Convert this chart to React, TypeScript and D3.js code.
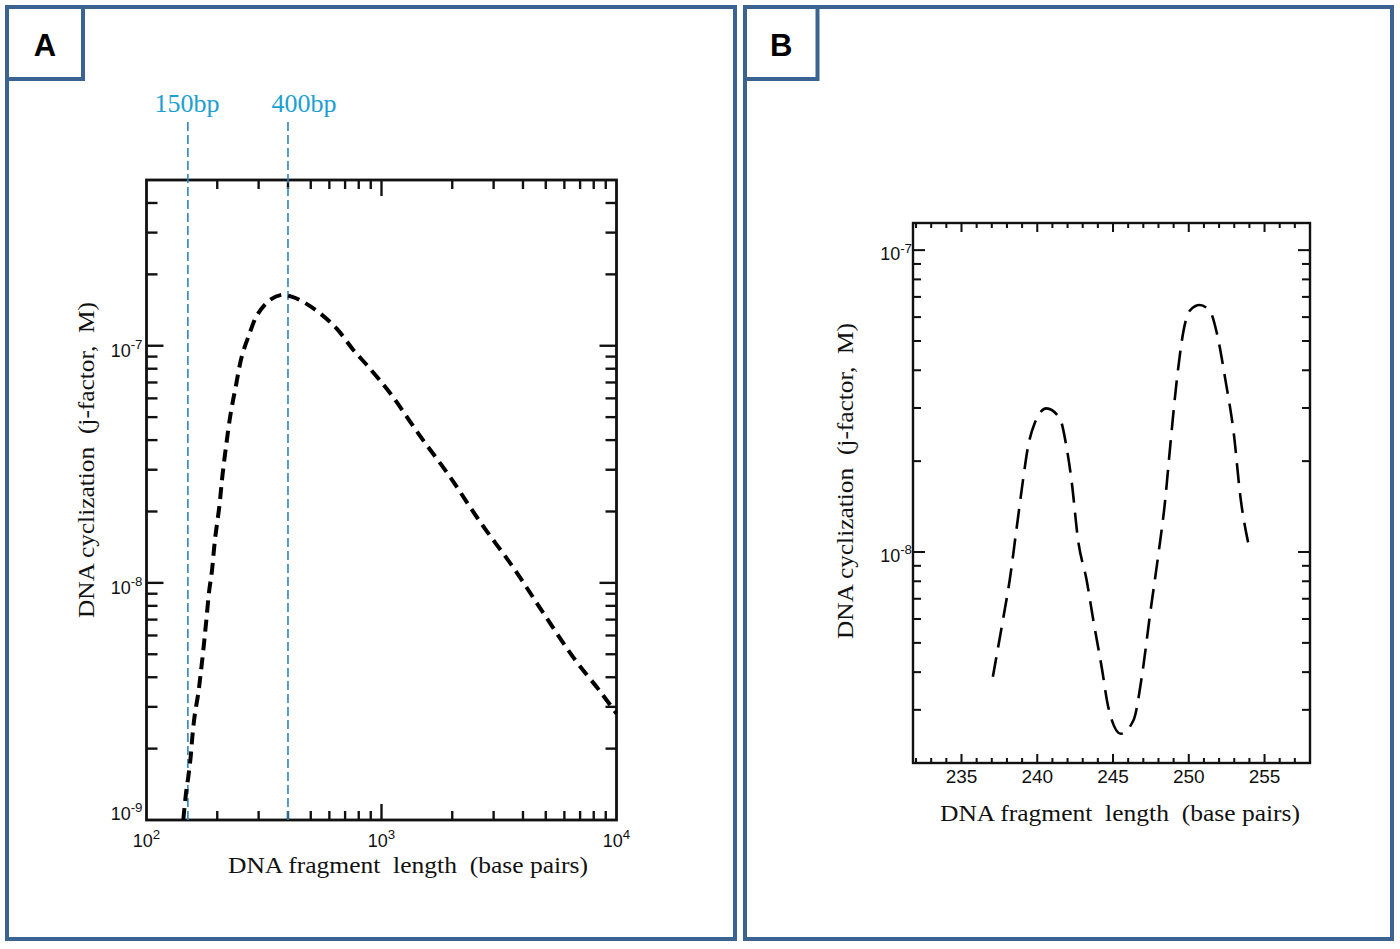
import React, { useRef, useEffect } from "react";
import * as d3 from "d3";

const WIDTH = 1400;
const HEIGHT = 949;
const FRAME = "#3b6392";
const INK = "#111";
const CYAN = "#1c9fd2";
const SERIF = "'Liberation Serif', 'Times New Roman', serif";
const SANS = "'Liberation Sans', Arial, sans-serif";

// Panel A: j-factor vs fragment length (log-log)
const lengthA = [
  143.4, 147.3, 150.6, 154.2, 157.2, 160.8, 166.1, 170.1, 174.5, 179.2, 185.0,
  189.4, 195.6, 204.1, 210.2, 217.9, 228.2, 239.7, 254.2, 273.1, 296.1, 335.4,
  376.1, 414.8, 464.7, 547.3, 644.8, 758.6, 878.8, 1087, 1458, 1956, 2625, 3638,
  4881, 6549, 8508, 10000,
];
const jFactorA = [
  1.0e-9, 1.3e-9, 1.52e-9, 1.85e-9, 2.32e-9, 2.82e-9, 3.42e-9, 4.16e-9, 5.21e-9,
  6.76e-9, 9.33e-9, 1.1e-8, 1.52e-8, 2.1e-8, 2.8e-8, 3.75e-8, 5.19e-8, 6.72e-8,
  8.99e-8, 1.11e-7, 1.35e-7, 1.56e-7, 1.64e-7, 1.61e-7, 1.53e-7, 1.37e-7,
  1.18e-7, 9.6e-8, 8.16e-8, 6.32e-8, 4.17e-8, 2.8e-8, 1.81e-8, 1.16e-8, 7.47e-9,
  4.85e-9, 3.49e-9, 2.81e-9,
];
const markersA = [150, 400];
const markerLabelsA = ["150bp", "400bp"];
const xLabelsA = [100, 1000, 10000];
const yLabelsA = [1e-9, 1e-8, 1e-7];

// Panel B: helical phasing, 237-254 bp
const lengthB = [
  237.07, 237.73, 238.18, 238.62, 239.06, 239.39, 239.83, 240.6, 241.49,
  241.93, 242.26, 242.7, 243.26, 243.7, 244.25, 244.69, 245.51, 246.35, 246.9,
  247.45, 248.0, 248.44, 248.77, 249.21, 249.66, 250.1, 250.72, 251.42, 251.86,
  252.42, 252.97, 253.41, 253.96,
];
const jFactorB = [
  3.86e-9, 5.94e-9, 8.06e-9, 1.18e-8, 1.73e-8, 2.23e-8, 2.67e-8, 2.99e-8,
  2.77e-8, 2.23e-8, 1.73e-8, 1.09e-8, 8.06e-9, 5.94e-9, 4.16e-9, 3.06e-9,
  2.5e-9, 2.77e-9, 3.86e-9, 6.25e-9, 9.88e-9, 1.48e-8, 2.23e-8, 3.71e-8,
  5.43e-8, 6.33e-8, 6.58e-8, 6.25e-8, 5.29e-8, 3.71e-8, 2.47e-8, 1.52e-8,
  1.05e-8,
];
const xLabelsB = [235, 240, 245, 250, 255];
const yLabelsB = [1e-8, 1e-7];

const X_TITLE = "DNA fragment  length  (base pairs)";
const Y_TITLE = "DNA cyclization  (j-factor,  M)";

type Sel = d3.Selection<SVGGElement, unknown, null, undefined>;
type Scale = (v: number) => number;

const isDecade = (v: number) =>
  Math.abs(Math.log10(v) - Math.round(Math.log10(v))) < 1e-6;

function power(sel: Sel, x: number, y: number, v: number, size: number, anchor: string) {
  const t = sel
    .append("text")
    .attr("x", x)
    .attr("y", y)
    .attr("text-anchor", anchor)
    .attr("font-family", SANS)
    .attr("font-size", size)
    .attr("fill", INK);
  t.append("tspan").text("10");
  t.append("tspan")
    .attr("dy", -size * 0.42)
    .attr("font-size", size * 0.74)
    .text(String(Math.round(Math.log10(v))));
}

function frame(
  g: Sel,
  x: Scale,
  y: Scale,
  box: { left: number; right: number; top: number; bottom: number },
  xTicks: number[],
  yTicks: number[],
  xMajor: (v: number) => boolean,
  yMajor: (v: number) => boolean,
  len: { xMaj: number; xMin: number; yMaj: number; yMin: number; w: number }
) {
  g.append("rect")
    .attr("x", box.left)
    .attr("y", box.top)
    .attr("width", box.right - box.left)
    .attr("height", box.bottom - box.top)
    .attr("fill", "none")
    .attr("stroke", INK)
    .attr("stroke-width", len.w);

  const ticks = g.append("g").attr("stroke", INK).attr("stroke-width", len.w * 0.85);
  xTicks.forEach((t) => {
    const l = xMajor(t) ? len.xMaj : len.xMin;
    ticks.append("line").attr("x1", x(t)).attr("x2", x(t)).attr("y1", box.bottom).attr("y2", box.bottom - l);
    ticks.append("line").attr("x1", x(t)).attr("x2", x(t)).attr("y1", box.top).attr("y2", box.top + l);
  });
  yTicks.forEach((t) => {
    const l = yMajor(t) ? len.yMaj : len.yMin;
    ticks.append("line").attr("y1", y(t)).attr("y2", y(t)).attr("x1", box.left).attr("x2", box.left + l);
    ticks.append("line").attr("y1", y(t)).attr("y2", y(t)).attr("x1", box.right).attr("x2", box.right - l);
  });
}

function titles(g: Sel, xc: number, xb: number, yx: number, yc: number) {
  g.append("text")
    .attr("x", xc)
    .attr("y", xb)
    .attr("text-anchor", "middle")
    .attr("font-family", SERIF)
    .attr("font-size", 23)
    .attr("textLength", 360)
    .attr("lengthAdjust", "spacingAndGlyphs")
    .style("white-space", "pre")
    .attr("fill", INK)
    .text(X_TITLE);
  g.append("text")
    .attr("transform", `translate(${yx},${yc}) rotate(-90)`)
    .attr("text-anchor", "middle")
    .attr("font-family", SERIF)
    .attr("font-size", 23)
    .attr("textLength", 316)
    .attr("lengthAdjust", "spacingAndGlyphs")
    .style("white-space", "pre")
    .attr("fill", INK)
    .text(Y_TITLE);
}

function panelBorder(g: Sel, x: number, w: number, letter: string, boxW: number) {
  g.append("rect")
    .attr("x", x)
    .attr("y", 7)
    .attr("width", w)
    .attr("height", 932)
    .attr("fill", "none")
    .attr("stroke", FRAME)
    .attr("stroke-width", 4);
  g.append("rect")
    .attr("x", x)
    .attr("y", 7)
    .attr("width", boxW)
    .attr("height", 72)
    .attr("fill", "#fff")
    .attr("stroke", FRAME)
    .attr("stroke-width", 4);
  g.append("text")
    .attr("x", x + boxW / 2)
    .attr("y", 56)
    .attr("text-anchor", "middle")
    .attr("font-family", SANS)
    .attr("font-weight", "bold")
    .attr("font-size", 31)
    .attr("fill", "#000")
    .text(letter);
}

export default function App() {
  const svgRef = useRef<SVGSVGElement | null>(null);

  useEffect(() => {
    const svg = d3.select(svgRef.current);
    svg.selectAll("*").remove();
    const root = svg.append("g") as unknown as Sel;

    // Frames
    panelBorder(root, 7, 728, "A", 76);
    panelBorder(root, 745, 647, "B", 72.5);

    // ---------- Panel A ----------
    const boxA = { left: 146.5, right: 616.5, top: 180, bottom: 820 };
    const xA = d3.scaleLog().domain([100, 10000]).range([boxA.left, boxA.right]);
    const yA = d3.scaleLog().domain([1e-9, 5e-7]).range([boxA.bottom, boxA.top]);
    const gA = root.append("g") as unknown as Sel;

    const xTicksA = xA.ticks().filter((t) => t > 100 && t < 10000);
    const yTicksA = yA.ticks().filter((t) => t > 1e-9 * 1.001 && t < 5e-7 * 0.999);
    frame(gA, xA, yA, boxA, xTicksA, yTicksA, isDecade, isDecade, {
      xMaj: 16, xMin: 9, yMaj: 17, yMin: 11, w: 2.8,
    });

    // marker lines
    markersA.forEach((m, i) => {
      gA.append("line")
        .attr("x1", xA(m))
        .attr("x2", xA(m))
        .attr("y1", 122)
        .attr("y2", boxA.bottom)
        .attr("stroke", "#2f84bd")
        .attr("stroke-width", 1.6)
        .attr("stroke-dasharray", "9 4");
      gA.append("text")
        .attr("x", xA(m) + (i === 0 ? -1 : 16))
        .attr("y", 112)
        .attr("text-anchor", "middle")
        .attr("font-family", SERIF)
        .attr("font-size", 26)
        .attr("fill", CYAN)
        .text(markerLabelsA[i]);
    });

    const lineA = d3
      .line<number>()
      .x((d) => xA(d))
      .y((_, i) => yA(jFactorA[i]))
      .curve(d3.curveCatmullRom.alpha(0.5));
    gA.append("path")
      .datum(lengthA)
      .attr("fill", "none")
      .attr("stroke", "#000")
      .attr("stroke-width", 4)
      .attr("stroke-dasharray", "12 7")
      .attr("d", lineA);

    xLabelsA.forEach((v) => power(gA, xA(v), boxA.bottom + 27, v, 18, "middle"));
    yLabelsA.forEach((v, i) =>
      power(gA, boxA.left - 4, yA(v) + (i === 0 ? 0 : 11), v, 18, "end")
    );
    titles(gA, 408, 873, 94, 460);

    // ---------- Panel B ----------
    const boxB = { left: 913, right: 1310, top: 223, bottom: 763 };
    const xB = d3.scaleLinear().domain([231.8, 258]).range([boxB.left, boxB.right]);
    const yB = d3.scaleLog().domain([2e-9, 1.23e-7]).range([boxB.bottom, boxB.top]);
    const gB = root.append("g") as unknown as Sel;

    const xTicksB = d3.range(232, 258);
    const yTicksB = yB.ticks().filter((t) => t > 2e-9 * 1.001);
    frame(gB, xB, yB, boxB, xTicksB, yTicksB, (t) => t % 5 === 0, isDecade, {
      xMaj: 9, xMin: 5, yMaj: 12, yMin: 8, w: 2.4,
    });

    const lineB = d3
      .line<number>()
      .x((d) => xB(d))
      .y((_, i) => yB(jFactorB[i]))
      .curve(d3.curveMonotoneX);
    gB.append("path")
      .datum(lengthB)
      .attr("fill", "none")
      .attr("stroke", "#000")
      .attr("stroke-width", 2.6)
      .attr("stroke-dasharray", "20 10")
      .attr("d", lineB);

    xLabelsB.forEach((v) =>
      gB.append("text")
        .attr("x", xB(v))
        .attr("y", boxB.bottom + 20)
        .attr("text-anchor", "middle")
        .attr("font-family", SANS)
        .attr("font-size", 19)
        .attr("fill", INK)
        .text(v)
    );
    yLabelsB.forEach((v) => power(gB, boxB.left - 1, yB(v) + 10, v, 18, "end"));
    titles(gB, 1120, 821, 853, 481);
  }, []);

  return (
    <svg
      ref={svgRef}
      width={WIDTH}
      height={HEIGHT}
      style={{ position: "absolute", left: 0, top: 0, background: "#fff", display: "block" }}
    />
  );
}
